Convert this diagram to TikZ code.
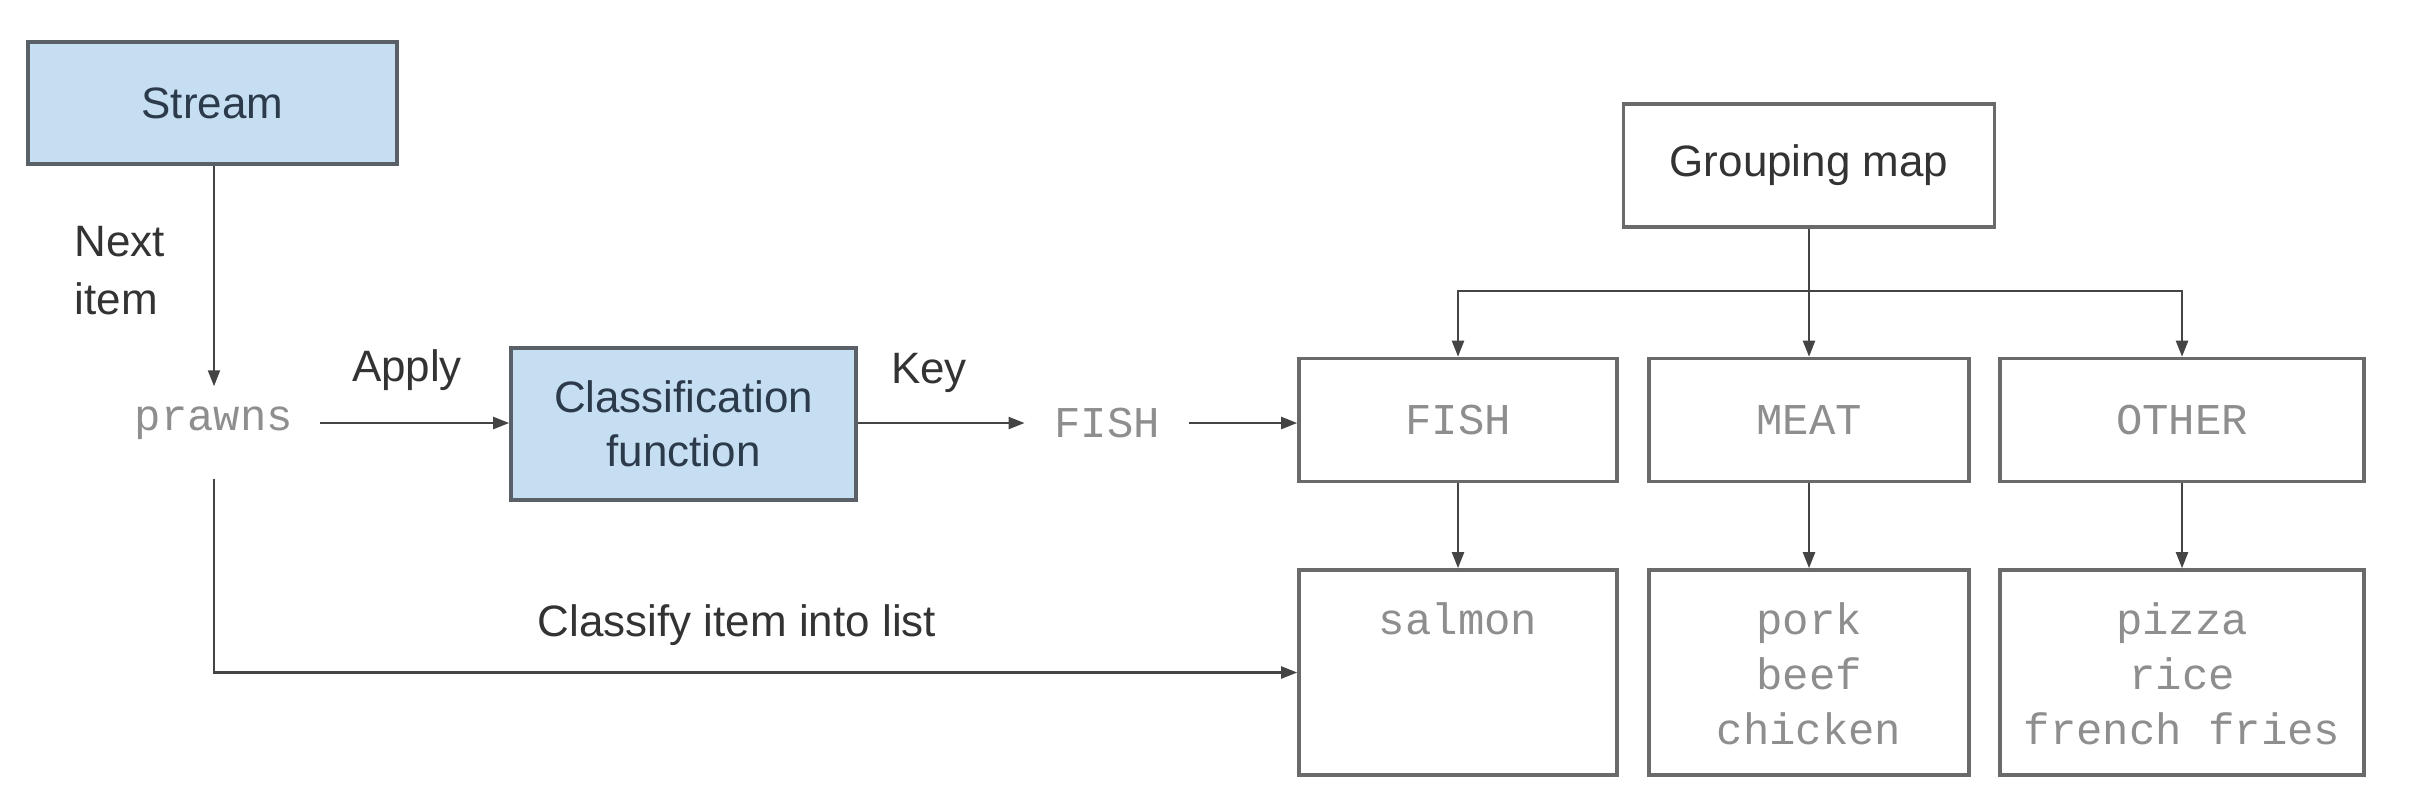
\documentclass[tikz,border=0pt]{standalone}
\usepackage{fontspec}
\setmainfont{Liberation Sans}
\newfontfamily\codefont{Liberation Mono}
\usetikzlibrary{arrows.meta}
\definecolor{boxblue}{HTML}{C6DEF1}
\definecolor{boxline}{HTML}{5A6068}
\definecolor{wline}{HTML}{6A6A6A}
\definecolor{conn}{HTML}{444444}
\definecolor{lbl}{HTML}{333333}
\definecolor{bluetext}{HTML}{2C3B4B}
\definecolor{codegray}{HTML}{8E8E8E}
\tikzset{
  bluebox/.style={draw=boxline, line width=0.035cm, fill=boxblue, text=bluetext, align=center, inner sep=0pt, font=\fontsize{12.5}{15.5}\selectfont},
  whitebox/.style={draw=wline, line width=0.035cm, fill=white, inner sep=0pt},
  codetext/.style={text=codegray, font=\codefont\fontsize{12.5}{15.6}\selectfont},
  lbltext/.style={text=lbl, font=\fontsize{12.5}{16.5}\selectfont, inner sep=0pt},
  conn/.style={draw=conn, line width=0.022cm, -{Triangle[length=0.16cm,width=0.12cm]}},
  plainconn/.style={draw=conn, line width=0.022cm},
}
\begin{document}
\begin{tikzpicture}[x=0.01cm, y=-0.01cm]
\useasboundingbox (0,0) rectangle (2416,808);
% left part
\node[bluebox, minimum width=3.69cm, minimum height=1.22cm] (stream) at (212.5,103) {Stream};
\node[lbltext, anchor=west, align=left] (next) at (74,271) {Next\\item};
\node[codetext, inner xsep=0.26cm, inner ysep=0pt, minimum height=0.72cm] (prawns) at (214,423) {prawns};
\node[bluebox, minimum width=3.45cm, minimum height=1.52cm] (classf) at (683.5,424) {Classification\\function};
\node[lbltext] (apply) at (407,370) {Apply};
\node[lbltext] (key) at (929,373) {Key};
\node[codetext, inner xsep=0.29cm, inner ysep=0pt, minimum height=0.72cm] (fishkey) at (1107,423) {FISH};
\node[lbltext] (classify) at (737,625) {Classify item into list};
% right part
\node[whitebox, minimum width=3.71cm, minimum height=1.23cm, text=lbl, font=\fontsize{12.5}{15}\selectfont] (gmap) at (1809,165.5) {Grouping map};
\node[whitebox, codetext, minimum width=3.18cm, minimum height=1.23cm] (fish) at (1458,420) {FISH};
\node[whitebox, codetext, minimum width=3.20cm, minimum height=1.23cm] (meat) at (1809,420) {MEAT};
\node[whitebox, codetext, minimum width=3.64cm, minimum height=1.23cm] (other) at (2182,420) {OTHER};
\node[whitebox, minimum width=3.18cm, minimum height=2.05cm] (lfish) at (1458,672.5) {};
\node[whitebox, minimum width=3.20cm, minimum height=2.05cm] (lmeat) at (1809,672.5) {};
\node[whitebox, minimum width=3.64cm, minimum height=2.05cm] (lother) at (2182,672.5) {};
\node[codetext, anchor=north, align=center, inner sep=0pt] (tfish) at ([yshift=-0.34cm]lfish.north) {salmon};
\node[codetext, anchor=north, align=center, inner sep=0pt] (tmeat) at ([yshift=-0.34cm]lmeat.north) {pork\\beef\\chicken};
\node[codetext, anchor=north, align=center, inner sep=0pt] (tother) at ([yshift=-0.34cm]lother.north) {pizza\\rice\\french fries};
\coordinate (branch) at (1809,291);
% connectors
\draw[conn] (stream.south -| prawns.north) -- (prawns.north);
\draw[conn] (prawns.east) -- (prawns.east -| classf.west);
\draw[conn] (classf.east |- fishkey.west) -- (fishkey.west);
\draw[conn] (fishkey.east) -- (fishkey.east -| fish.west);
\draw[plainconn] (gmap.south) -- (branch);
\draw[conn] (branch) -- (meat.north);
\draw[conn] (branch) -| (fish.north);
\draw[conn] (branch) -| (other.north);
\draw[conn] (fish.south) -- (lfish.north);
\draw[conn] (meat.south) -- (lmeat.north);
\draw[conn] (other.south) -- (lother.north);
\draw[conn] ([yshift=-0.19cm]prawns.south) |- (lfish.west);
\end{tikzpicture}
\end{document}
